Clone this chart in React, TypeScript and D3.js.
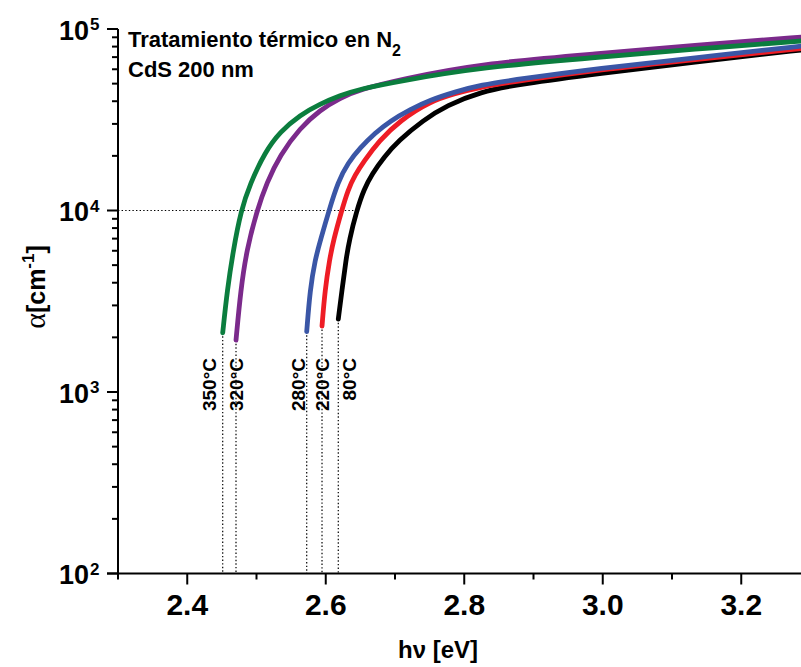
import React from "react";
import * as d3 from "d3";

// Absorption coefficient of CdS films (200 nm) after annealing in N2
const seriesNames = ["350°C", "320°C", "280°C", "220°C", "80°C"];
const seriesColors = ["#0b7d3e", "#7b2a8b", "#3a56a6", "#ee1c25", "#000000"];

const energy350 = [2.4512, 2.4578, 2.4665, 2.4776, 2.4906, 2.5123, 2.5339, 2.5628, 2.5917, 2.6206, 2.6495, 2.7072, 2.8227, 2.996, 3.126, 3.3];
const alpha350 = [2120, 3650, 6060, 10000, 14000, 21000, 27100, 33600, 38600, 43000, 46700, 51700, 61400, 70100, 77100, 86700];

const energy320 = [2.4704, 2.4772, 2.4858, 2.5007, 2.5147, 2.5339, 2.5628, 2.5917, 2.6206, 2.6495, 2.7072, 2.8227, 2.996, 3.126, 3.3];
const alpha320 = [1930, 3650, 6060, 10000, 14200, 20200, 28500, 35800, 41700, 46400, 52700, 64500, 73300, 81100, 91100];

const energy280 = [2.5725, 2.5773, 2.5845, 2.5924, 2.6047, 2.6177, 2.6321, 2.6495, 2.6711, 2.6928, 2.7217, 2.7505, 2.7866, 2.8227, 2.8805, 2.996, 3.126, 3.3];
const alpha280 = [2150, 3650, 5340, 6880, 10000, 14400, 18300, 22100, 26700, 31100, 36000, 40600, 45000, 49100, 53000, 60800, 68800, 81600];

const energy220 = [2.5946, 2.5989, 2.6054, 2.6112, 2.623, 2.6321, 2.6422, 2.6552, 2.6769, 2.7072, 2.7505, 2.7866, 2.8227, 2.8805, 2.996, 3.126, 3.3];
const alpha220 = [2310, 3650, 5340, 6880, 10000, 13000, 15700, 18700, 24200, 31300, 39900, 44100, 47900, 52000, 59700, 67500, 78900];

const energy80 = [2.6181, 2.6235, 2.6292, 2.634, 2.6447, 2.6552, 2.6668, 2.6841, 2.7048, 2.7409, 2.7747, 2.8227, 2.8805, 2.996, 3.126, 3.3];
const alpha80 = [2520, 3650, 5340, 6880, 10000, 13100, 15900, 19700, 24200, 31500, 37900, 45000, 49800, 57000, 65400, 77700];

const seriesEnergy = [energy350, energy320, energy280, energy220, energy80];
const seriesAlpha = [alpha350, alpha320, alpha280, alpha220, alpha80];

const xMajorTicks = [2.4, 2.6, 2.8, 3.0, 3.2];
const xMinorTicks = [2.3, 2.5, 2.7, 2.9, 3.1, 3.3];
const yDecadeExponents = [2, 3, 4, 5];
const referenceAlpha = 1e4;

const titleLine1 = "Tratamiento térmico en N";
const titleSub = "2";
const titleLine2 = "CdS 200 nm";

const SANS = "'Liberation Sans', Arial, Helvetica, sans-serif";
const SERIF = "'Liberation Serif', 'Times New Roman', serif";

export default function App() {
  const width = 801;
  const height = 667;
  const x0 = 118;
  const yBottom = 573.5;
  const yTop = 29;

  const x = d3.scaleLinear().domain([2.3, 3.3]).range([x0, 810.5]);
  const y = d3.scaleLog().domain([100, 1e5]).range([yBottom, yTop]);

  const line = d3
    .line<[number, number]>()
    .x((d) => x(d[0]))
    .y((d) => y(d[1]))
    .curve(d3.curveBasis);

  const yMinor: number[] = [];
  [2, 3, 4].forEach((k) => {
    for (let m = 2; m <= 9; m++) yMinor.push(m * Math.pow(10, k));
  });

  // horizontal reference line ends where the last series reaches 1e4
  const lastIdx = seriesAlpha.length - 1;
  const refIdx = seriesAlpha[lastIdx].indexOf(referenceAlpha);
  const refEnergy = seriesEnergy[lastIdx][refIdx];

  const labelDx = [-7, 7, -2, 6.5, 18];
  const drawOrder = [4, 3, 2, 1, 0];
  const dotted = "1.4 2.2";

  return (
    <svg
      width={width}
      height={height}
      style={{ position: "absolute", left: 0, top: 0, background: "#fff" }}
      fontFamily={SANS}
    >
      <rect width={width} height={height} fill="#fff" />

      {/* reference guides */}
      <line
        x1={x0}
        x2={x(refEnergy)}
        y1={y(referenceAlpha)}
        y2={y(referenceAlpha)}
        stroke="#000"
        strokeWidth={1.2}
        strokeDasharray={dotted}
      />
      {seriesEnergy.map((en, i) => (
        <line
          key={"v" + i}
          x1={x(en[0])}
          x2={x(en[0])}
          y1={y(seriesAlpha[i][0])}
          y2={yBottom}
          stroke="#000"
          strokeWidth={1.2}
          strokeDasharray={dotted}
        />
      ))}

      {/* curves */}
      {drawOrder.map((i) => {
        const pts: [number, number][] = seriesEnergy[i].map((e, j) => [e, seriesAlpha[i][j]]);
        return (
          <path
            key={"c" + i}
            d={line(pts) || ""}
            fill="none"
            stroke={seriesColors[i]}
            strokeWidth={4.8}
            strokeLinecap="round"
            strokeLinejoin="round"
          />
        );
      })}

      {/* temperature labels */}
      {seriesNames.map((name, i) => (
        <text
          key={"l" + i}
          transform={`translate(${x(seriesEnergy[i][0]) + labelDx[i]}, 358) rotate(-90)`}
          textAnchor="end"
          fontSize={19}
          fontWeight="bold"
          fill="#000"
        >
          {name}
        </text>
      ))}

      {/* x axis */}
      <line x1={x0 - 11} x2={width} y1={yBottom} y2={yBottom} stroke="#000" strokeWidth={2} />
      {xMajorTicks.map((t) => (
        <g key={"xm" + t}>
          <line x1={x(t)} x2={x(t)} y1={yBottom} y2={yBottom + 11} stroke="#000" strokeWidth={2} />
          <text x={x(t)} y={615} textAnchor="middle" fontSize={30} fontWeight="bold">
            {t.toFixed(1)}
          </text>
        </g>
      ))}
      {xMinorTicks.map((t) => (
        <line key={"xn" + t} x1={x(t)} x2={x(t)} y1={yBottom} y2={yBottom + 6} stroke="#000" strokeWidth={2} />
      ))}
      <text x={438} y={658} textAnchor="middle" fontSize={24} fontWeight="bold">
        hν [eV]
      </text>

      {/* y axis */}
      <line x1={x0} x2={x0} y1={yTop} y2={yBottom} stroke="#000" strokeWidth={2} />
      {yDecadeExponents.map((k) => {
        const v = Math.pow(10, k);
        return (
          <g key={"ym" + k}>
            <line x1={x0 - 11} x2={x0} y1={y(v)} y2={y(v)} stroke="#000" strokeWidth={2} />
            <text x={89} y={y(v) + 10.5} textAnchor="end" fontSize={27} fontWeight="bold">
              10
            </text>
            <text x={90} y={y(v) + 1} textAnchor="start" fontSize={17} fontWeight="bold">
              {k}
            </text>
          </g>
        );
      })}
      {yMinor.map((v) => (
        <line key={"yn" + v} x1={x0 - 6} x2={x0} y1={y(v)} y2={y(v)} stroke="#000" strokeWidth={2} />
      ))}
      <text transform="translate(45, 287) rotate(-90)" textAnchor="middle" fill="#000">
        <tspan fontFamily={SERIF} fontSize={30}>
          α
        </tspan>
        <tspan fontWeight="bold" fontSize={25}>
          [cm
        </tspan>
        <tspan fontWeight="bold" fontSize={17} dy={-11}>
          -1
        </tspan>
        <tspan fontWeight="bold" fontSize={25} dy={11}>
          ]
        </tspan>
      </text>

      {/* title */}
      <text x={128} y={47} fontSize={22} fontWeight="bold">
        {titleLine1}
        <tspan fontSize={16} dy={9}>
          {titleSub}
        </tspan>
      </text>
      <text x={128} y={77} fontSize={22} fontWeight="bold">
        {titleLine2}
      </text>
    </svg>
  );
}
